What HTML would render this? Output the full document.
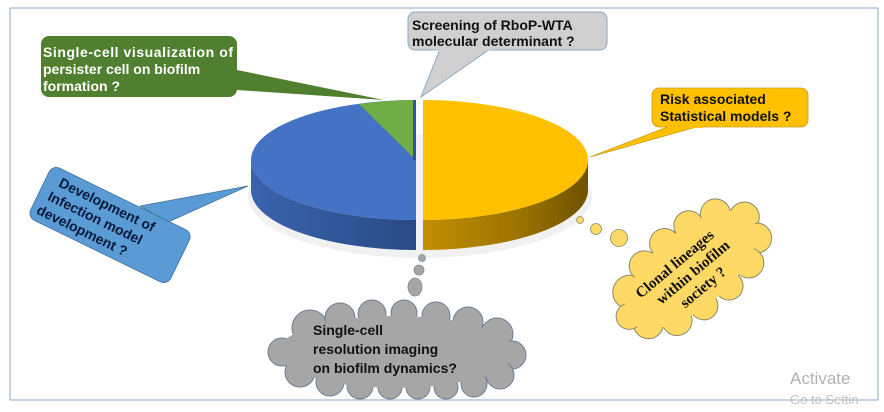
<!DOCTYPE html>
<html><head><meta charset="utf-8"><style>
html,body{margin:0;padding:0;background:#fff;width:884px;height:412px;overflow:hidden}
svg{display:block}
text{font-family:"Liberation Sans",sans-serif;font-weight:bold}
</style></head><body>
<svg width="884" height="412" viewBox="0 0 884 412" xmlns="http://www.w3.org/2000/svg">
<defs>
<linearGradient id="gb" x1="0" x2="1" y1="0" y2="0"><stop offset="0" stop-color="#3a63ad"/><stop offset="1" stop-color="#2a4a85"/></linearGradient>
<linearGradient id="gy" x1="0" x2="1" y1="0" y2="0"><stop offset="0" stop-color="#c08f00"/><stop offset="0.6" stop-color="#9a7200"/><stop offset="1" stop-color="#6e5200"/></linearGradient>
</defs>
<rect x="10" y="8" width="868" height="392" fill="none" stroke="#8ea9c4" stroke-width="1"/>

<!-- green callout -->
<path d="M237,70 L384,100 L237,90 Z" fill="#4f7f2f"/>
<rect x="41" y="36" width="196" height="61" rx="8" fill="#4f7f2f"/>
<text fill="#fff" font-size="14" x="43" y="57" textLength="190">Single-cell visualization of</text>
<text fill="#fff" font-size="14" x="43" y="74">persister cell on biofilm</text>
<text fill="#fff" font-size="14" x="43" y="91">formation  ?</text>

<!-- gray callout -->
<path d="M440,49 L421,97 L490,49 Z" fill="#d0d0d0" stroke="#8ea9c4" stroke-width="1"/>
<rect x="408" y="12" width="199" height="38" rx="7" fill="#d0d0d0" stroke="#8ea9c4" stroke-width="1"/>
<rect x="436" y="47" width="56" height="4" fill="#d0d0d0"/>
<text fill="#111" font-size="14" x="412" y="30">Screening of RboP-WTA</text>
<text fill="#111" font-size="14" x="412" y="46">molecular determinant ?</text>

<!-- yellow callout -->
<path d="M670,126 L590,157 L700,126 Z" fill="#ffc000" stroke="#c9a020" stroke-width="0.8"/>
<rect x="652" y="88" width="156" height="39" rx="7" fill="#ffc000" stroke="#c9a020" stroke-width="0.8"/>
<rect x="668" y="124" width="34" height="4" fill="#ffc000"/>
<text fill="#111" font-size="14" x="660" y="104">Risk associated</text>
<text fill="#111" font-size="14" x="660" y="121">Statistical models ?</text>

<!-- blue rotated callout -->
<path d="M140,206 L248,186 L168,222 Z" fill="#5b9bd5" stroke="#41719c" stroke-width="0.8"/>
<g transform="translate(110,225) rotate(26)">
<rect x="-78" y="-29" width="156" height="58" rx="8" fill="#5b9bd5" stroke="#41719c" stroke-width="0.8"/>
<text fill="#0a1a3a" font-size="14" x="-64" y="-12">Development of</text>
<text fill="#0a1a3a" font-size="14" x="-68" y="5">Infection model</text>
<text fill="#0a1a3a" font-size="14" x="-72" y="22">development ?</text>
</g>

<!-- pie -->
<ellipse cx="420" cy="196" rx="172" ry="62" fill="#e8e8e8" opacity="0.6"/>
<path d="M251,160 A165,60 0 0 0 416,220 L416,250 A165,60 0 0 1 251,190 Z" fill="url(#gb)"/>
<path d="M416,160 L416,100 A165,60 0 0 0 251,160 A165,60 0 0 0 416,220 Z" fill="#4472c4"/>
<path d="M416,160 L416,100 A165,60 0 0 0 359,104 Z" fill="#70ad47"/>
<rect x="413" y="100" width="3" height="60" fill="#2f5597"/>
<path d="M588,160 A165,60 0 0 1 423,220 L423,250 A165,60 0 0 0 588,190 Z" fill="url(#gy)"/>
<path d="M423,100 A165,60 0 0 1 423,220 Z" fill="#ffc000"/>

<!-- gray thought bubbles -->
<circle cx="422" cy="258" r="3.5" fill="#a5a5a5" stroke="#7f8ea0" stroke-width="0.8"/>
<circle cx="419" cy="270" r="5" fill="#a5a5a5" stroke="#7f8ea0" stroke-width="0.8"/>
<ellipse cx="415" cy="287" rx="7" ry="9" fill="#a5a5a5" stroke="#7f8ea0" stroke-width="0.8"/>
<g fill="#a6a6a6" stroke="#6f7f95" stroke-width="1">
<circle cx="310" cy="328" r="18"/><circle cx="340" cy="318" r="15"/><circle cx="372" cy="314" r="14"/>
<circle cx="404" cy="313" r="13"/><circle cx="436" cy="316" r="14"/><circle cx="468" cy="322" r="15"/>
<circle cx="497" cy="334" r="16"/><circle cx="512" cy="355" r="14"/><circle cx="500" cy="375" r="14"/>
<circle cx="474" cy="384" r="13"/><circle cx="446" cy="387" r="12"/><circle cx="418" cy="387" r="12"/>
<circle cx="390" cy="387" r="12"/><circle cx="360" cy="386" r="13"/><circle cx="330" cy="382" r="14"/>
<circle cx="300" cy="372" r="15"/><circle cx="282" cy="352" r="14"/>
</g>
<ellipse cx="396" cy="352" rx="118" ry="36" fill="#a6a6a6"/>
<text fill="#111" font-size="14" x="313" y="335">Single-cell</text>
<text fill="#111" font-size="14" x="313" y="354">resolution imaging</text>
<text fill="#111" font-size="14" x="313" y="373">on biofilm dynamics?</text>

<!-- yellow thought bubbles -->
<circle cx="580" cy="220" r="3.5" fill="#ffd966" stroke="#8a8a6a" stroke-width="0.8"/>
<circle cx="596" cy="229" r="5.5" fill="#ffd966" stroke="#8a8a6a" stroke-width="0.8"/>
<circle cx="619" cy="238" r="8.5" fill="#ffd966" stroke="#8a8a6a" stroke-width="0.8"/>
<g transform="translate(693,268) rotate(-40)">
<g fill="#ffd966" stroke="#8a8a6a" stroke-width="1">
<circle cx="-64" cy="-22" r="17"/><circle cx="-36" cy="-33" r="15"/><circle cx="-6" cy="-37" r="15"/>
<circle cx="24" cy="-35" r="15"/><circle cx="52" cy="-27" r="15"/><circle cx="72" cy="-6" r="15"/>
<circle cx="68" cy="18" r="15"/><circle cx="46" cy="32" r="15"/><circle cx="16" cy="37" r="14"/>
<circle cx="-16" cy="36" r="14"/><circle cx="-46" cy="30" r="15"/><circle cx="-70" cy="14" r="15"/>
<circle cx="-80" cy="-4" r="13"/>
</g>
<ellipse cx="-3" cy="0" rx="80" ry="38" fill="#ffd966"/>
<text fill="#111" font-size="15" x="-60" y="-10" style="font-family:'Liberation Serif',serif">Clonal lineages</text>
<text fill="#111" font-size="15" x="-48" y="8" style="font-family:'Liberation Serif',serif">within biofilm</text>
<text fill="#111" font-size="15" x="-32" y="26" style="font-family:'Liberation Serif',serif">society ?</text>
</g>

<text x="790" y="384" font-size="17" fill="#b0b0b0" style="font-weight:normal">Activate</text>
<text x="790" y="404" font-size="13" fill="#c0c0c0" style="font-weight:normal">Go to Settin</text>
</svg>
</body></html>
